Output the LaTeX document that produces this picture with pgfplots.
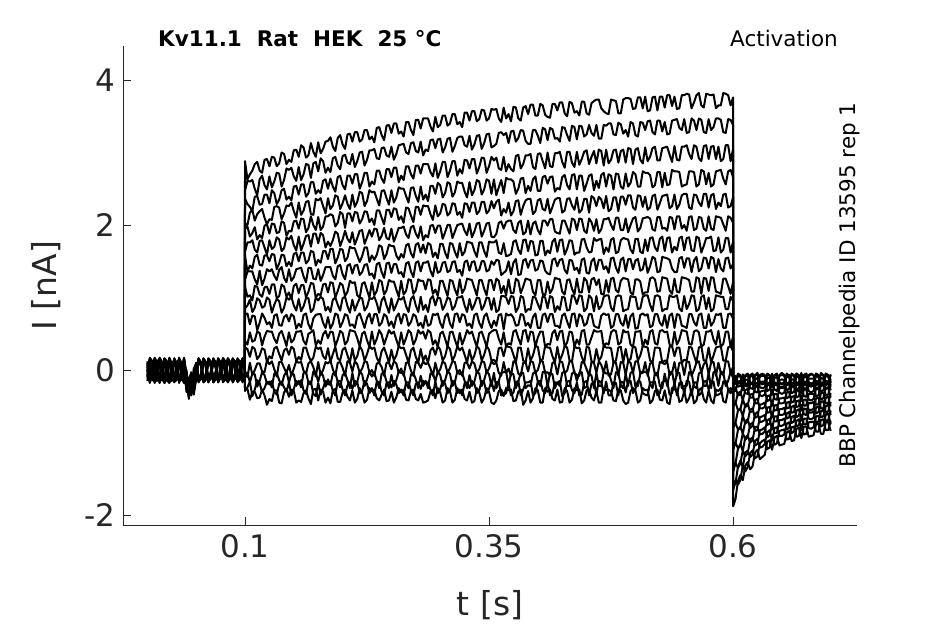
\documentclass[border=0pt]{standalone}
\usepackage{fontspec}
\setmainfont{DejaVu Sans}
\usepackage{pgfplots}
\pgfplotsset{compat=1.18}
\usepackage{pgfplotstable}
\definecolor{axgray}{RGB}{38,38,38}

\pgfplotstableread{
t c0 c1 c2 c3 c4 c5 c6 c7 c8 c9 c10 c11 c12 c13 c14 c15 c16
0.000 0.05 -0.08 0.10 -0.02 -0.12 0.08 0.00 -0.06 0.12 -0.10 0.04 -0.15 0.07 -0.03 0.09 -0.09 0.02
0.0025 -0.16 0.14 -0.12 0.17 -0.05 0.13 -0.18 0.10 -0.14 0.15 -0.09 0.16 -0.17 0.12 -0.15 0.14 -0.11
0.005 -0.10 0.07 -0.05 0.12 0.03 -0.14 0.09 0.05 -0.08 0.06 -0.12 0.10 -0.04 0.08 -0.11 0.05 -0.07
0.0075 0.15 -0.17 0.13 -0.11 0.16 -0.15 0.12 -0.18 0.14 -0.08 0.17 -0.14 0.11 -0.16 0.15 -0.12 0.16
0.010 0.08 -0.12 0.04 -0.09 0.10 0.02 -0.10 0.11 0.01 -0.15 0.09 -0.02 0.12 -0.12 0.03 0.10 -0.05
0.0125 -0.18 0.12 0.16 -0.15 -0.13 0.17 -0.10 0.15 -0.16 0.13 -0.17 0.10 0.15 0.13 -0.12 -0.17 0.14
0.015 -0.04 0.10 -0.13 0.06 -0.07 0.11 0.05 -0.12 0.09 0.03 -0.05 0.08 -0.10 0.05 -0.14 -0.02 0.11
0.0175 0.13 -0.15 -0.17 0.14 0.15 -0.12 0.16 -0.14 0.12 -0.18 0.11 -0.16 -0.13 -0.15 0.16 0.12 -0.18
0.020 0.11 -0.03 0.08 -0.14 0.05 -0.06 0.12 0.02 -0.11 0.10 0.06 -0.13 0.04 -0.07 0.10 0.07 -0.12
0.0225 -0.14 0.17 0.12 -0.18 -0.16 0.14 -0.15 0.13 -0.17 0.12 -0.14 0.15 0.16 0.11 -0.17 -0.15 0.13
0.025 -0.12 0.09 -0.02 0.10 -0.15 0.07 -0.05 0.09 0.04 -0.09 -0.10 0.05 -0.12 0.11 -0.03 -0.11 0.06
0.0275 0.16 -0.13 -0.15 0.12 0.13 -0.17 0.14 -0.16 0.15 -0.13 0.16 -0.12 -0.16 -0.14 0.13 0.16 -0.15
0.030 0.06 -0.11 0.11 0.01 0.08 -0.12 0.03 -0.14 0.10 0.05 0.08 -0.08 0.09 -0.04 0.06 0.04 -0.09
0.0325 -0.15 0.15 0.14 -0.16 -0.18 0.12 -0.13 0.17 -0.12 0.16 -0.15 0.14 0.12 0.15 -0.16 -0.13 0.15
0.035 -0.08 0.04 -0.10 -0.12 0.00 0.09 -0.13 0.06 -0.06 -0.12 0.02 0.11 -0.06 0.07 -0.12 -0.08 0.08
0.0375 0.12 -0.16 -0.18 0.15 0.14 -0.15 0.16 -0.12 0.17 -0.14 0.13 -0.17 -0.14 -0.12 0.15 0.14 -0.16
0.040 -0.08 -0.20 0.00 -0.25 -0.12 -0.02 -0.28 -0.15 -0.05 -0.22 -0.10 -0.04 -0.18 -0.12 -0.30 -0.06 -0.16
0.0425 -0.30 -0.12 -0.35 -0.18 -0.26 -0.40 -0.15 -0.33 -0.22 -0.38 -0.14 -0.28 -0.36 -0.20 -0.32 -0.16 -0.27
0.045 -0.15 -0.05 -0.26 -0.10 -0.32 -0.14 -0.03 -0.22 -0.28 -0.08 -0.18 -0.35 -0.06 -0.20 -0.12 -0.25 -0.09
0.0475 -0.12 -0.28 0.02 -0.34 -0.08 -0.22 -0.30 -0.05 -0.25 -0.15 -0.33 -0.10 -0.24 -0.04 -0.28 -0.12 -0.20
0.050 0.04 -0.10 0.09 -0.03 0.06 -0.11 0.10 -0.06 0.02 0.08 -0.13 0.05 -0.08 0.10 -0.01 0.07 -0.10
0.0525 -0.16 0.15 -0.14 0.16 -0.17 0.13 -0.15 0.14 -0.16 -0.13 0.16 -0.15 0.14 -0.16 0.15 -0.14 0.16
0.055 -0.09 0.08 -0.12 0.10 -0.08 0.05 -0.04 0.11 -0.12 -0.05 0.09 -0.10 0.11 -0.09 0.08 -0.13 0.05
0.0575 0.14 -0.16 0.15 -0.17 0.12 -0.15 0.16 -0.14 0.15 0.16 -0.15 0.13 -0.17 0.15 -0.16 0.15 -0.13
0.060 0.10 -0.05 0.03 -0.13 0.11 -0.09 0.07 -0.10 0.08 0.11 -0.04 0.07 -0.13 0.03 -0.10 0.09 -0.06
0.0625 -0.17 0.13 -0.16 0.14 -0.15 0.16 -0.14 0.16 -0.17 -0.15 0.14 -0.16 0.15 -0.14 0.13 -0.16 0.15
0.065 -0.03 0.11 -0.09 0.05 -0.02 0.12 -0.11 0.04 -0.05 -0.11 0.10 -0.12 0.06 -0.12 0.11 -0.04 0.10
0.0675 0.15 -0.15 0.14 -0.16 0.16 -0.14 0.15 -0.17 0.13 0.14 -0.16 0.15 -0.14 0.16 -0.15 0.14 -0.17
0.070 0.07 -0.13 0.12 -0.08 0.09 -0.03 0.05 -0.13 0.11 0.02 -0.09 0.09 -0.02 0.09 -0.06 0.06 -0.12
0.0725 -0.14 0.16 -0.17 0.15 -0.16 0.14 -0.17 0.13 -0.15 -0.16 0.15 -0.14 0.16 -0.17 0.16 -0.15 0.14
0.075 -0.12 0.06 -0.06 0.11 -0.11 0.08 -0.07 0.08 -0.09 0.09 0.05 -0.07 0.10 -0.05 0.04 -0.10 0.03
0.0775 0.16 -0.14 0.15 -0.14 0.14 -0.16 0.13 -0.15 0.16 0.15 -0.17 0.16 -0.15 0.14 -0.14 0.16 -0.15
0.080 0.09 -0.04 0.10 -0.10 0.06 -0.13 0.11 -0.03 0.05 -0.12 -0.11 0.12 -0.09 0.11 -0.13 0.08 -0.08
0.0825 -0.15 0.15 -0.14 0.16 -0.17 0.15 -0.16 0.14 -0.14 -0.17 0.14 -0.15 0.16 -0.15 0.15 -0.14 0.16
0.085 -0.05 0.10 -0.11 0.03 -0.09 0.06 -0.09 0.10 -0.13 0.07 0.08 -0.05 0.05 -0.10 0.09 -0.07 0.11
0.0875 0.14 -0.17 0.16 -0.15 0.15 -0.14 0.16 -0.16 0.15 0.14 -0.15 0.14 -0.16 0.16 -0.17 0.15 -0.14
0.090 0.12 -0.09 0.05 -0.12 0.10 -0.07 0.04 -0.11 0.09 -0.04 -0.06 0.09 -0.12 0.06 -0.05 0.11 -0.04
0.0925 -0.16 0.14 -0.15 0.15 -0.14 0.16 -0.15 0.15 -0.17 -0.14 0.16 -0.16 0.15 -0.14 0.14 -0.16 0.15
0.095 -0.07 0.05 -0.13 0.08 -0.05 0.10 -0.12 0.06 -0.02 0.10 0.03 -0.13 0.08 -0.08 0.12 -0.09 0.07
0.0975 0.15 -0.16 0.14 -0.17 0.16 -0.15 0.14 -0.14 0.16 0.15 -0.14 0.15 -0.15 0.16 -0.16 0.14 -0.15
0.0999 0.02 -0.06 0.06 -0.04 0.08 -0.03 0.05 -0.07 0.10 -0.05 -0.02 0.06 -0.06 0.04 -0.03 0.05 -0.08
0.100 2.88 2.47 2.36 2.02 1.95 1.63 1.57 1.24 1.15 0.85 0.76 0.40 0.31 -0.02 -0.04 -0.29 -0.26
0.1025 2.63 2.61 2.29 2.00 1.98 1.76 1.36 1.36 1.01 0.89 0.78 0.35 0.29 -0.10 -0.04 -0.24 -0.26
0.105 2.70 2.60 2.25 2.17 1.84 1.76 1.44 1.36 1.03 0.97 0.63 0.52 0.18 0.10 -0.17 -0.16 -0.41
0.1075 2.75 2.62 2.19 2.21 1.89 1.79 1.40 1.36 0.96 0.80 0.75 0.39 0.32 -0.07 -0.05 -0.36 -0.30
0.110 2.84 2.50 2.39 2.06 1.97 1.66 1.56 1.25 1.16 0.86 0.74 0.41 0.29 0.00 -0.06 -0.27 -0.30
0.1125 2.87 2.41 2.40 2.15 1.80 1.62 1.59 1.18 1.15 0.99 0.55 0.53 0.15 0.09 -0.23 -0.14 -0.39
0.115 2.75 2.63 2.28 2.19 1.86 1.78 1.45 1.37 1.04 0.96 0.65 0.51 0.20 0.09 -0.15 -0.18 -0.38
0.1175 2.72 2.68 2.29 2.22 1.82 1.79 1.44 1.17 1.01 0.86 0.78 0.34 0.30 -0.02 -0.03 -0.31 -0.27
0.120 2.90 2.55 2.42 2.10 1.99 1.69 1.58 1.26 1.14 0.88 0.72 0.46 0.28 -0.03 -0.07 -0.25 -0.35
0.1225 2.91 2.49 2.42 2.01 2.01 1.59 1.58 1.39 1.15 1.00 0.63 0.54 0.11 0.13 -0.19 -0.16 -0.48
0.125 2.81 2.67 2.30 2.08 1.88 1.79 1.50 1.36 1.05 0.97 0.66 0.53 0.19 0.08 -0.16 -0.20 -0.40
0.1275 2.94 2.52 2.48 2.07 2.02 1.67 1.60 1.39 1.18 0.79 0.58 0.53 0.16 0.12 -0.24 -0.15 -0.43
0.130 2.93 2.60 2.44 2.25 2.01 1.70 1.59 1.30 1.18 0.90 0.75 0.43 0.30 0.01 -0.05 -0.30 -0.28
0.1325 2.81 2.72 2.29 2.26 1.89 1.83 1.39 1.24 0.99 0.98 0.77 0.37 0.32 -0.09 -0.04 -0.34 -0.28
0.135 2.85 2.71 2.35 2.24 1.90 1.80 1.47 1.38 1.02 0.95 0.62 0.50 0.22 0.11 -0.14 -0.19 -0.45
0.1375 3.00 2.53 2.48 2.08 2.05 1.64 1.59 1.42 1.18 0.79 0.61 0.54 0.13 0.11 -0.21 -0.16 -0.46
0.140 2.98 2.62 2.50 2.16 2.03 1.68 1.58 1.27 1.15 0.86 0.73 0.44 0.27 0.03 -0.08 -0.24 -0.31
0.1425 2.84 2.78 2.35 2.27 1.85 1.83 1.43 1.21 1.01 1.00 0.76 0.33 0.30 -0.04 -0.02 -0.30 -0.26
0.145 2.90 2.76 2.39 2.26 1.92 1.80 1.49 1.39 1.07 0.97 0.67 0.52 0.21 0.07 -0.17 -0.17 -0.37
0.1475 2.87 2.79 2.34 2.31 1.91 1.85 1.43 1.23 0.98 1.01 0.77 0.38 0.32 -0.08 -0.05 -0.35 -0.27
0.150 3.03 2.67 2.53 2.19 2.05 1.72 1.60 1.28 1.16 0.89 0.74 0.42 0.29 0.02 -0.06 -0.26 -0.29
0.1525 3.04 2.61 2.54 2.10 2.06 1.65 1.62 1.39 1.19 0.82 0.57 0.53 0.12 0.12 -0.22 -0.15 -0.45
0.155 2.94 2.80 2.42 2.31 1.95 1.84 1.50 1.40 1.06 0.98 0.64 0.53 0.18 0.10 -0.15 -0.19 -0.42
0.1575 3.10 2.62 2.56 2.14 2.09 1.65 1.62 1.41 1.17 0.81 0.59 0.54 0.14 0.11 -0.24 -0.14 -0.44
0.160 3.07 2.70 2.56 2.20 2.08 1.74 1.62 1.29 1.17 0.88 0.76 0.40 0.31 -0.01 -0.04 -0.28 -0.32
0.1625 2.93 2.84 2.39 2.32 1.90 1.85 1.47 1.21 1.00 0.99 0.78 0.35 0.31 -0.05 -0.03 -0.33 -0.28
0.165 2.96 2.83 2.44 2.33 1.96 1.86 1.51 1.41 1.08 0.99 0.63 0.50 0.20 0.09 -0.18 -0.16 -0.39
0.1675 3.13 2.65 2.59 2.15 2.12 1.70 1.64 1.41 1.20 0.80 0.56 0.52 0.12 0.12 -0.20 -0.16 -0.47
0.170 3.01 2.85 2.59 2.14 2.00 1.88 1.63 1.26 1.19 0.84 0.71 0.55 0.17 0.04 -0.02 -0.33 -0.27
0.1725 2.94 2.87 2.43 2.36 1.93 1.88 1.44 1.25 1.00 1.00 0.76 0.34 0.32 -0.09 -0.04 -0.36 -0.26
0.175 3.14 2.74 2.48 2.34 2.11 1.75 1.52 1.39 1.05 0.96 0.77 0.41 0.29 0.11 -0.16 -0.18 -0.42
0.1775 2.99 2.92 2.44 2.37 1.93 1.89 1.48 1.23 1.03 1.01 0.77 0.36 0.31 -0.07 -0.03 -0.34 -0.27
0.180 3.05 2.88 2.61 2.26 1.98 1.86 1.64 1.31 1.18 0.98 0.65 0.49 0.19 0.00 -0.08 -0.25 -0.30
0.1825 3.15 2.72 2.63 2.16 2.12 1.69 1.64 1.42 1.19 0.82 0.58 0.54 0.15 0.11 -0.23 -0.15 -0.45
0.185 3.16 2.79 2.50 2.37 2.12 1.77 1.53 1.42 1.07 0.87 0.73 0.44 0.30 0.09 -0.13 -0.20 -0.38
0.1875 3.21 2.73 2.64 2.22 2.15 1.71 1.67 1.42 1.21 0.80 0.57 0.53 0.11 0.13 -0.21 -0.16 -0.46
0.190 3.08 2.92 2.53 2.27 2.13 1.79 1.67 1.30 1.20 0.97 0.64 0.52 0.22 0.01 -0.05 -0.29 -0.28
0.1925 3.02 2.94 2.46 2.41 1.98 1.91 1.47 1.25 1.00 1.00 0.78 0.33 0.32 -0.08 -0.04 -0.35 -0.26
0.195 3.20 2.82 2.66 2.39 2.03 1.88 1.55 1.43 1.09 0.90 0.76 0.42 0.16 0.10 -0.16 -0.15 -0.44
0.1975 3.24 2.77 2.68 2.22 2.18 1.71 1.67 1.45 1.20 0.82 0.59 0.54 0.13 0.11 -0.24 -0.15 -0.44
0.200 3.11 2.95 2.55 2.30 2.15 1.80 1.66 1.32 1.17 0.99 0.66 0.51 0.28 0.03 -0.07 -0.27 -0.31
0.2025 3.05 2.97 2.49 2.41 1.96 1.92 1.50 1.25 1.02 1.01 0.77 0.35 0.31 -0.08 -0.04 -0.35 -0.27
0.205 3.25 2.86 2.68 2.29 2.16 1.81 1.55 1.44 1.08 0.88 0.75 0.40 0.20 0.12 -0.14 -0.21 -0.37
0.2075 3.26 2.84 2.68 2.22 2.16 1.76 1.70 1.46 1.23 0.79 0.61 0.55 0.10 0.10 -0.25 -0.17 -0.42
0.210 3.15 2.98 2.57 2.42 2.05 1.90 1.68 1.33 1.20 0.97 0.63 0.54 0.30 -0.02 -0.04 -0.26 -0.28
0.2125 3.28 2.80 2.70 2.25 2.18 1.73 1.68 1.44 1.21 0.82 0.58 0.53 0.13 0.12 -0.22 -0.15 -0.45
0.215 3.28 2.88 2.70 2.32 2.17 1.82 1.58 1.45 1.03 0.91 0.74 0.44 0.19 0.08 -0.17 -0.17 -0.40
0.2175 3.15 3.00 2.50 2.46 2.02 1.92 1.49 1.31 1.00 0.99 0.78 0.32 0.33 -0.04 -0.02 -0.32 -0.25
0.220 3.18 3.01 2.59 2.44 2.08 1.93 1.57 1.35 1.19 0.99 0.68 0.50 0.27 0.02 -0.06 -0.29 -0.32
0.2225 3.31 2.82 2.72 2.26 2.19 1.74 1.69 1.45 1.21 0.82 0.58 0.53 0.13 0.12 -0.22 -0.15 -0.45
0.225 3.31 2.90 2.72 2.33 2.18 1.83 1.69 1.46 1.10 0.87 0.72 0.41 0.22 0.11 -0.13 -0.19 -0.41
0.2275 3.18 3.03 2.53 2.48 2.04 1.93 1.49 1.31 1.00 0.99 0.78 0.32 0.33 -0.04 -0.02 -0.32 -0.25
0.230 3.22 3.03 2.60 2.45 2.09 1.84 1.58 1.33 1.21 0.98 0.64 0.53 0.29 0.00 -0.09 -0.25 -0.29
0.2325 3.14 3.05 2.56 2.46 2.00 1.95 1.52 1.26 1.03 1.01 0.77 0.35 0.31 -0.08 -0.04 -0.35 -0.27
0.235 3.34 2.92 2.75 2.36 2.20 1.94 1.59 1.46 1.09 0.92 0.77 0.43 0.17 0.09 -0.15 -0.16 -0.39
0.2375 3.35 2.91 2.75 2.27 2.20 1.79 1.72 1.48 1.24 0.79 0.61 0.55 0.10 0.10 -0.25 -0.17 -0.42
0.240 3.24 3.06 2.64 2.47 2.10 1.85 1.70 1.35 1.22 0.96 0.65 0.49 0.26 0.04 -0.05 -0.30 -0.34
0.2425 3.17 3.07 2.58 2.48 2.01 1.96 1.53 1.27 1.04 1.01 0.77 0.35 0.31 -0.08 -0.04 -0.35 -0.27
0.245 3.37 2.96 2.77 2.37 2.21 1.82 1.60 1.47 1.10 0.89 0.74 0.45 0.21 0.10 -0.16 -0.18 -0.43
0.2475 3.38 2.94 2.77 2.28 2.21 1.80 1.73 1.48 1.24 0.79 0.61 0.55 0.10 0.10 -0.25 -0.17 -0.42
0.250 3.27 3.08 2.66 2.48 2.11 1.95 1.71 1.34 1.22 0.99 0.67 0.50 0.28 0.01 -0.07 -0.24 -0.30
0.2525 3.40 2.90 2.79 2.31 2.23 1.77 1.71 1.46 1.22 0.82 0.58 0.53 0.13 0.12 -0.22 -0.15 -0.45
0.255 3.40 2.98 2.79 2.38 2.22 1.86 1.58 1.46 1.11 0.90 0.73 0.42 0.20 0.09 -0.14 -0.20 -0.38
0.2575 3.26 3.10 2.59 2.52 2.07 1.96 1.52 1.33 1.01 0.99 0.78 0.32 0.33 -0.04 -0.02 -0.32 -0.25
0.260 3.29 3.11 2.68 2.50 2.12 1.96 1.60 1.35 1.23 0.97 0.64 0.52 0.30 0.02 -0.04 -0.27 -0.31
0.2625 3.22 3.12 2.62 2.50 2.03 1.98 1.55 1.28 1.04 1.01 0.77 0.35 0.31 -0.08 -0.04 -0.35 -0.27
0.265 3.42 3.00 2.81 2.40 2.24 1.87 1.72 1.47 1.09 0.88 0.76 0.44 0.21 0.10 -0.18 -0.17 -0.41
0.2675 3.42 2.98 2.81 2.31 2.23 1.82 1.74 1.49 1.25 0.80 0.61 0.55 0.10 0.10 -0.25 -0.17 -0.42
0.270 3.31 3.13 2.70 2.51 2.13 1.97 1.61 1.36 1.24 0.98 0.66 0.51 0.27 -0.01 -0.06 -0.28 -0.29
0.2725 3.24 3.14 2.64 2.52 2.04 1.99 1.55 1.28 1.05 1.02 0.77 0.35 0.31 -0.08 -0.04 -0.35 -0.27
0.275 3.45 3.02 2.82 2.40 2.25 1.88 1.73 1.48 1.10 0.89 0.74 0.42 0.18 0.11 -0.13 -0.19 -0.40
0.2775 3.45 3.00 2.82 2.32 2.25 1.82 1.75 1.50 1.25 0.80 0.61 0.55 0.10 0.10 -0.25 -0.17 -0.42
0.280 3.33 3.15 2.71 2.53 2.14 1.98 1.62 1.36 1.23 1.01 0.65 0.50 0.29 0.03 -0.08 -0.26 -0.33
0.2825 3.47 2.96 2.84 2.35 2.27 1.79 1.73 1.48 1.23 0.83 0.58 0.53 0.13 0.12 -0.22 -0.15 -0.45
0.285 3.47 3.04 2.84 2.42 2.26 1.86 1.61 1.48 1.11 0.90 0.75 0.43 0.20 0.08 -0.15 -0.18 -0.44
0.2875 3.47 3.02 2.84 2.33 2.26 1.83 1.75 1.50 1.25 0.80 0.61 0.55 0.10 0.10 -0.25 -0.17 -0.42
0.290 3.36 3.17 2.73 2.54 2.15 1.99 1.73 1.37 1.24 0.98 0.63 0.52 0.27 0.02 -0.05 -0.27 -0.30
0.2925 3.29 3.18 2.67 2.54 2.07 2.00 1.56 1.29 1.05 1.02 0.77 0.35 0.31 -0.08 -0.04 -0.35 -0.27
0.295 3.49 3.06 2.85 2.43 2.27 1.89 1.62 1.49 1.11 0.89 0.76 0.41 0.21 0.10 -0.16 -0.16 -0.39
0.2975 3.35 3.18 2.65 2.58 2.12 1.99 1.54 1.34 1.02 1.00 0.78 0.32 0.33 -0.04 -0.02 -0.32 -0.25
0.300 3.38 3.19 2.74 2.55 2.16 1.99 1.74 1.36 1.23 0.99 0.65 0.50 0.28 0.01 -0.07 -0.26 -0.31
0.3025 3.51 3.00 2.87 2.38 2.29 1.81 1.74 1.48 1.23 0.83 0.58 0.53 0.13 0.12 -0.22 -0.15 -0.45
0.305 3.51 3.07 2.87 2.44 2.28 1.90 1.62 1.49 1.12 0.90 0.74 0.43 0.19 0.09 -0.14 -0.19 -0.42
0.3075 3.37 3.19 2.66 2.59 2.13 2.00 1.54 1.35 1.02 1.00 0.78 0.32 0.33 -0.04 -0.02 -0.32 -0.25
0.310 3.40 3.20 2.75 2.57 2.17 2.00 1.75 1.37 1.24 0.98 0.64 0.52 0.29 0.03 -0.05 -0.28 -0.29
0.3125 3.53 3.01 2.88 2.39 2.30 1.82 1.74 1.49 1.23 0.83 0.58 0.53 0.13 0.12 -0.22 -0.15 -0.45
0.315 3.53 3.09 2.88 2.45 2.29 1.91 1.63 1.50 1.11 0.88 0.77 0.42 0.20 0.11 -0.17 -0.17 -0.41
0.3175 3.39 3.20 2.68 2.60 2.14 2.00 1.55 1.35 1.03 1.00 0.78 0.32 0.33 -0.04 -0.02 -0.32 -0.25
0.320 3.42 3.22 2.77 2.58 2.18 2.01 1.75 1.38 1.25 1.00 0.66 0.51 0.27 0.00 -0.06 -0.27 -0.32
0.3225 3.35 3.22 2.71 2.58 2.10 2.02 1.58 1.30 1.06 1.02 0.77 0.35 0.31 -0.08 -0.04 -0.35 -0.27
0.325 3.55 3.10 2.90 2.46 2.30 1.92 1.63 1.49 1.12 0.89 0.75 0.44 0.21 0.10 -0.15 -0.18 -0.40
0.3275 3.55 3.08 2.89 2.38 2.29 1.86 1.77 1.51 1.26 0.80 0.61 0.55 0.10 0.10 -0.25 -0.17 -0.42
0.330 3.44 3.23 2.78 2.59 2.18 2.02 1.76 1.37 1.25 0.98 0.64 0.50 0.28 0.02 -0.07 -0.25 -0.30
0.3325 3.57 3.04 2.91 2.41 2.31 1.83 1.75 1.49 1.24 0.83 0.58 0.53 0.13 0.12 -0.22 -0.15 -0.45
0.335 3.57 3.11 2.91 2.48 2.31 1.91 1.64 1.50 1.13 0.90 0.76 0.42 0.20 0.09 -0.16 -0.19 -0.43
0.3375 3.43 3.23 2.71 2.62 2.15 2.02 1.56 1.36 1.03 1.00 0.78 0.32 0.33 -0.04 -0.02 -0.32 -0.25
0.340 3.46 3.24 2.80 2.60 2.19 2.03 1.76 1.38 1.24 0.99 0.65 0.51 0.29 0.01 -0.05 -0.28 -0.31
0.3425 3.59 3.05 2.93 2.42 2.32 1.84 1.76 1.50 1.24 0.83 0.58 0.53 0.13 0.12 -0.22 -0.15 -0.45
0.345 3.58 3.13 2.92 2.49 2.32 1.92 1.64 1.50 1.12 0.89 0.74 0.43 0.21 0.11 -0.14 -0.17 -0.39
0.3475 3.44 3.25 2.72 2.63 2.16 2.02 1.56 1.36 1.03 1.00 0.78 0.32 0.33 -0.04 -0.02 -0.32 -0.25
0.350 3.47 3.26 2.81 2.61 2.20 2.03 1.77 1.38 1.24 0.99 0.66 0.50 0.28 0.02 -0.06 -0.26 -0.30
0.3525 3.60 3.07 2.94 2.43 2.33 1.84 1.76 1.50 1.24 0.83 0.58 0.53 0.13 0.12 -0.22 -0.15 -0.45
0.355 3.59 3.09 2.89 2.63 2.23 1.83 1.76 1.45 1.10 0.99 0.68 0.55 0.14 0.08 -0.04 -0.29 -0.47
0.3575 3.60 3.12 2.93 2.41 2.32 1.88 1.79 1.52 1.26 0.80 0.61 0.55 0.10 0.10 -0.25 -0.17 -0.42
0.360 3.47 3.27 2.78 2.52 2.35 2.03 1.62 1.51 1.23 0.83 0.76 0.43 0.30 -0.04 -0.15 -0.16 -0.29
0.3625 3.42 3.28 2.76 2.62 2.13 2.05 1.60 1.31 1.06 1.02 0.77 0.35 0.31 -0.08 -0.04 -0.35 -0.27
0.365 3.62 3.24 2.94 2.44 2.22 1.95 1.75 1.34 1.16 1.02 0.56 0.52 0.19 0.11 -0.03 -0.34 -0.36
0.3675 3.47 3.27 2.74 2.65 2.17 2.04 1.57 1.37 1.03 1.00 0.78 0.32 0.33 -0.04 -0.02 -0.32 -0.25
0.370 3.53 3.13 2.84 2.63 2.31 2.06 1.58 1.50 1.25 0.91 0.75 0.37 0.32 0.02 -0.22 -0.18 -0.28
0.3725 3.43 3.29 2.77 2.63 2.13 2.06 1.60 1.32 1.06 1.02 0.77 0.35 0.31 -0.08 -0.04 -0.35 -0.27
0.375 3.63 3.30 2.74 2.60 2.19 1.93 1.77 1.48 1.06 1.01 0.72 0.53 0.21 0.12 -0.06 -0.31 -0.43
0.3775 3.62 3.15 2.95 2.43 2.33 1.89 1.79 1.53 1.26 0.80 0.61 0.55 0.10 0.10 -0.25 -0.17 -0.42
0.380 3.47 3.20 2.97 2.50 2.34 2.03 1.66 1.31 1.23 0.86 0.62 0.44 0.31 -0.05 -0.16 -0.15 -0.30
0.3825 3.44 3.31 2.78 2.64 2.14 2.06 1.60 1.32 1.06 1.02 0.77 0.35 0.31 -0.08 -0.04 -0.35 -0.27
0.385 3.62 3.30 2.84 2.65 2.26 1.87 1.79 1.51 1.15 1.00 0.76 0.54 0.13 0.10 -0.04 -0.27 -0.48
0.3875 3.64 3.16 2.96 2.44 2.34 1.90 1.80 1.53 1.26 0.80 0.61 0.55 0.10 0.10 -0.25 -0.17 -0.42
0.390 3.53 3.12 2.96 2.54 2.36 2.06 1.64 1.41 1.25 0.84 0.65 0.39 0.30 -0.02 -0.21 -0.17 -0.29
0.3925 3.66 3.12 2.98 2.47 2.36 1.87 1.78 1.51 1.24 0.83 0.58 0.53 0.13 0.12 -0.22 -0.15 -0.45
0.395 3.66 3.31 2.80 2.63 2.15 2.02 1.77 1.52 1.08 1.01 0.73 0.52 0.20 0.11 -0.05 -0.35 -0.39
0.3975 3.51 3.31 2.77 2.67 2.19 2.05 1.58 1.37 1.03 1.00 0.78 0.32 0.33 -0.04 -0.02 -0.32 -0.25
0.400 3.51 3.23 2.98 2.47 2.34 1.93 1.59 1.39 1.24 0.91 0.58 0.45 0.32 0.00 -0.16 -0.16 -0.28
0.4025 3.67 3.13 2.99 2.47 2.36 1.87 1.78 1.51 1.24 0.83 0.58 0.53 0.13 0.12 -0.22 -0.15 -0.45
0.405 3.65 3.34 2.88 2.66 2.22 2.06 1.78 1.50 1.05 1.02 0.76 0.53 0.15 0.12 -0.03 -0.28 -0.45
0.4075 3.52 3.32 2.78 2.68 2.20 2.06 1.58 1.37 1.03 1.00 0.78 0.32 0.33 -0.04 -0.02 -0.32 -0.25
0.410 3.49 3.17 3.00 2.57 2.36 1.99 1.65 1.33 1.22 0.85 0.66 0.36 0.31 -0.03 -0.23 -0.17 -0.30
0.4125 3.48 3.34 2.81 2.66 2.16 2.08 1.61 1.32 1.06 1.02 0.77 0.35 0.31 -0.08 -0.04 -0.35 -0.27
0.415 3.67 3.32 2.80 2.67 2.25 2.08 1.77 1.52 1.12 1.00 0.77 0.51 0.19 0.10 -0.06 -0.32 -0.40
0.4175 3.67 3.19 2.99 2.46 2.35 1.91 1.81 1.54 1.27 0.80 0.61 0.55 0.10 0.10 -0.25 -0.17 -0.42
0.420 3.58 3.20 2.99 2.51 2.37 1.89 1.63 1.43 1.26 0.88 0.61 0.41 0.32 -0.06 -0.17 -0.18 -0.27
0.4225 3.69 3.15 3.01 2.49 2.37 1.88 1.79 1.52 1.25 0.83 0.58 0.53 0.13 0.12 -0.22 -0.15 -0.45
0.425 3.69 3.35 2.87 2.66 2.17 2.06 1.80 1.53 1.08 1.01 0.75 0.54 0.21 0.11 -0.04 -0.36 -0.44
0.4275 3.54 3.34 2.79 2.69 2.20 2.06 1.59 1.38 1.04 1.00 0.78 0.32 0.33 -0.04 -0.02 -0.32 -0.25
0.430 3.50 3.24 3.01 2.55 2.36 1.97 1.67 1.33 1.24 0.82 0.67 0.38 0.31 -0.01 -0.22 -0.16 -0.29
0.4325 3.70 3.16 3.01 2.49 2.37 1.88 1.79 1.52 1.25 0.83 0.58 0.53 0.13 0.12 -0.22 -0.15 -0.45
0.435 3.68 3.37 2.86 2.69 2.27 2.09 1.78 1.51 1.12 1.03 0.77 0.52 0.12 0.12 -0.05 -0.28 -0.41
0.4375 3.55 3.35 2.80 2.70 2.21 2.07 1.59 1.38 1.04 1.01 0.78 0.32 0.33 -0.04 -0.02 -0.32 -0.25
0.440 3.57 3.18 3.01 2.49 2.38 1.93 1.62 1.41 1.26 0.91 0.60 0.42 0.30 -0.07 -0.15 -0.17 -0.28
0.4425 3.51 3.37 2.83 2.68 2.17 2.09 1.62 1.33 1.07 1.03 0.77 0.35 0.31 -0.08 -0.04 -0.35 -0.27
0.445 3.70 3.36 2.91 2.68 2.21 2.08 1.80 1.52 1.07 1.02 0.74 0.54 0.18 0.11 -0.03 -0.34 -0.46
0.4475 3.70 3.22 3.01 2.47 2.36 1.92 1.81 1.54 1.27 0.81 0.61 0.55 0.10 0.10 -0.25 -0.17 -0.42
0.450 3.54 3.25 3.03 2.57 2.36 1.89 1.69 1.34 1.23 0.85 0.64 0.35 0.32 0.01 -0.23 -0.15 -0.28
0.4525 3.52 3.38 2.84 2.68 2.17 2.09 1.62 1.33 1.07 1.03 0.77 0.35 0.31 -0.08 -0.04 -0.35 -0.27
0.455 3.68 3.27 2.94 2.70 2.40 2.04 1.63 1.50 1.25 0.99 0.77 0.45 0.12 0.11 -0.08 -0.19 -0.38
0.4575 3.71 3.23 3.02 2.48 2.37 1.92 1.82 1.54 1.27 0.81 0.61 0.55 0.10 0.10 -0.25 -0.17 -0.42
0.460 3.73 3.38 2.85 2.61 2.26 2.08 1.78 1.37 1.17 1.02 0.59 0.53 0.29 -0.04 -0.04 -0.33 -0.29
0.4625 3.73 3.19 3.04 2.51 2.39 1.89 1.80 1.52 1.25 0.84 0.58 0.53 0.13 0.12 -0.22 -0.15 -0.45
0.465 3.61 3.19 3.02 2.69 2.35 1.94 1.81 1.52 1.05 0.88 0.75 0.54 0.18 0.07 -0.22 -0.17 -0.45
0.4675 3.57 3.38 2.82 2.72 2.23 2.08 1.60 1.39 1.04 1.01 0.78 0.32 0.33 -0.04 -0.02 -0.32 -0.25
0.470 3.54 3.37 3.04 2.53 2.40 2.08 1.69 1.43 1.24 1.03 0.76 0.37 0.31 0.12 -0.05 -0.16 -0.28
0.4725 3.53 3.40 2.85 2.70 2.19 2.10 1.63 1.34 1.07 1.03 0.77 0.35 0.31 -0.08 -0.04 -0.35 -0.27
0.475 3.73 3.40 2.90 2.68 2.22 2.00 1.80 1.54 1.26 0.86 0.58 0.52 0.30 -0.06 -0.14 -0.35 -0.30
0.4775 3.72 3.25 3.03 2.49 2.38 1.93 1.82 1.55 1.27 0.81 0.61 0.55 0.10 0.10 -0.25 -0.17 -0.42
0.480 3.71 3.24 3.04 2.71 2.38 2.10 1.61 1.41 1.10 1.01 0.77 0.54 0.13 0.10 -0.03 -0.18 -0.43
0.4825 3.54 3.41 2.86 2.70 2.19 2.10 1.63 1.34 1.07 1.03 0.77 0.35 0.31 -0.08 -0.04 -0.35 -0.27
0.485 3.54 3.39 3.02 2.53 2.39 1.93 1.79 1.52 1.23 1.02 0.65 0.38 0.32 0.11 -0.21 -0.16 -0.28
0.4875 3.73 3.26 3.04 2.50 2.39 1.93 1.82 1.55 1.27 0.81 0.61 0.55 0.10 0.10 -0.25 -0.17 -0.42
0.490 3.75 3.31 2.86 2.71 2.28 2.09 1.81 1.36 1.26 0.83 0.76 0.52 0.29 -0.07 -0.05 -0.31 -0.47
0.4925 3.75 3.22 3.06 2.53 2.41 1.90 1.80 1.53 1.25 0.84 0.58 0.53 0.13 0.12 -0.22 -0.15 -0.45
0.495 3.74 3.42 3.05 2.58 2.41 2.00 1.66 1.53 1.07 1.02 0.74 0.35 0.15 0.10 -0.04 -0.15 -0.29
0.4975 3.60 3.40 2.84 2.73 2.24 2.09 1.61 1.39 1.04 1.01 0.78 0.32 0.33 -0.04 -0.02 -0.32 -0.25
0.500 3.61 3.24 3.04 2.70 2.21 2.11 1.81 1.51 1.25 1.01 0.57 0.53 0.31 0.12 -0.23 -0.26 -0.28
0.5025 3.76 3.22 3.06 2.53 2.41 1.91 1.81 1.53 1.25 0.84 0.58 0.53 0.13 0.12 -0.22 -0.15 -0.45
0.505 3.76 3.42 2.90 2.53 2.40 1.96 1.63 1.37 1.22 0.85 0.76 0.54 0.20 -0.05 -0.05 -0.16 -0.42
0.5075 3.61 3.41 2.85 2.74 2.25 2.09 1.61 1.39 1.04 1.01 0.78 0.32 0.33 -0.04 -0.02 -0.32 -0.25
0.510 3.77 3.31 3.07 2.72 2.39 2.10 1.80 1.54 1.07 1.03 0.75 0.42 0.32 0.11 -0.03 -0.34 -0.28
0.5125 3.57 3.43 2.88 2.72 2.21 2.11 1.64 1.34 1.07 1.03 0.77 0.35 0.31 -0.08 -0.04 -0.35 -0.27
0.515 3.58 3.44 2.94 2.69 2.24 2.09 1.82 1.43 1.26 0.90 0.59 0.53 0.13 0.09 -0.19 -0.17 -0.46
0.5175 3.76 3.28 3.06 2.52 2.40 1.94 1.83 1.56 1.28 0.81 0.61 0.55 0.10 0.10 -0.25 -0.17 -0.42
0.520 3.77 3.25 3.08 2.55 2.42 1.92 1.69 1.54 1.25 1.02 0.77 0.37 0.31 -0.06 -0.04 -0.16 -0.29
0.5225 3.58 3.44 2.89 2.73 2.21 2.11 1.64 1.35 1.08 1.03 0.77 0.35 0.31 -0.08 -0.04 -0.35 -0.27
0.525 3.77 3.44 2.89 2.73 2.30 2.11 1.81 1.36 1.09 1.01 0.65 0.54 0.30 0.11 -0.22 -0.32 -0.41
0.5275 3.77 3.29 3.06 2.52 2.40 1.95 1.84 1.56 1.28 0.81 0.61 0.55 0.10 0.10 -0.25 -0.17 -0.42
0.530 3.62 3.42 3.07 2.72 2.41 1.96 1.64 1.55 1.27 0.84 0.76 0.52 0.13 0.08 -0.05 -0.15 -0.28
0.5325 3.79 3.25 3.08 2.55 2.42 1.92 1.82 1.54 1.26 0.84 0.58 0.53 0.13 0.12 -0.22 -0.15 -0.45
0.535 3.79 3.26 2.97 2.56 2.23 2.11 1.83 1.52 1.10 1.03 0.75 0.35 0.32 -0.07 -0.04 -0.34 -0.47
0.5375 3.64 3.44 2.87 2.76 2.26 2.10 1.62 1.40 1.05 1.01 0.78 0.32 0.33 -0.04 -0.02 -0.32 -0.25
0.540 3.77 3.45 3.09 2.74 2.42 1.94 1.70 1.35 1.26 1.01 0.58 0.53 0.19 0.11 -0.21 -0.17 -0.27
0.5425 3.60 3.46 2.90 2.74 2.22 2.12 1.65 1.35 1.08 1.03 0.77 0.35 0.31 -0.08 -0.04 -0.35 -0.27
0.545 3.61 3.34 2.89 2.73 2.28 2.12 1.82 1.54 1.07 0.85 0.76 0.42 0.31 0.10 -0.04 -0.18 -0.44
0.5475 3.79 3.31 3.08 2.53 2.41 1.95 1.84 1.56 1.28 0.81 0.61 0.55 0.10 0.10 -0.25 -0.17 -0.42
0.550 3.79 3.46 3.08 2.55 2.43 2.00 1.65 1.41 1.27 1.02 0.60 0.54 0.14 -0.07 -0.22 -0.33 -0.29
0.5525 3.81 3.27 3.10 2.56 2.43 1.92 1.82 1.54 1.26 0.84 0.58 0.53 0.13 0.12 -0.22 -0.15 -0.45
0.555 3.80 3.28 2.98 2.74 2.24 2.11 1.83 1.54 1.24 0.91 0.77 0.36 0.32 0.11 -0.03 -0.16 -0.39
0.5575 3.61 3.47 2.91 2.74 2.22 2.12 1.65 1.35 1.08 1.03 0.77 0.35 0.31 -0.08 -0.04 -0.35 -0.27
0.560 3.69 3.44 3.10 2.73 2.42 1.93 1.64 1.51 1.08 1.02 0.66 0.53 0.20 0.00 -0.23 -0.17 -0.46
0.5625 3.79 3.31 3.08 2.53 2.41 1.95 1.84 1.56 1.28 0.81 0.61 0.55 0.10 0.10 -0.25 -0.17 -0.42
0.565 3.82 3.47 2.92 2.56 2.31 2.11 1.82 1.36 1.26 0.84 0.76 0.52 0.31 0.12 -0.05 -0.35 -0.28
0.5675 3.65 3.45 2.88 2.76 2.26 2.10 1.62 1.40 1.05 1.01 0.78 0.32 0.33 -0.04 -0.02 -0.32 -0.25
0.570 3.62 3.28 3.09 2.74 2.43 1.95 1.71 1.55 1.27 1.03 0.58 0.35 0.13 0.08 -0.22 -0.16 -0.40
0.5725 3.81 3.27 3.10 2.56 2.43 1.92 1.82 1.54 1.26 0.84 0.58 0.53 0.13 0.12 -0.22 -0.15 -0.45
0.575 3.80 3.46 2.91 2.72 2.24 2.12 1.82 1.40 1.09 1.00 0.77 0.53 0.31 -0.06 -0.04 -0.27 -0.28
0.5775 3.79 3.31 3.08 2.53 2.41 1.95 1.84 1.56 1.28 0.81 0.61 0.55 0.10 0.10 -0.25 -0.17 -0.42
0.580 3.80 3.35 3.09 2.56 2.43 1.93 1.64 1.54 1.27 0.84 0.66 0.42 0.20 0.11 -0.03 -0.16 -0.46
0.5825 3.61 3.47 2.91 2.74 2.22 2.12 1.65 1.35 1.08 1.03 0.77 0.35 0.31 -0.08 -0.04 -0.35 -0.27
0.585 3.65 3.47 3.08 2.75 2.31 2.11 1.83 1.53 1.07 1.02 0.76 0.54 0.32 0.10 -0.22 -0.34 -0.29
0.5875 3.65 3.45 2.88 2.76 2.26 2.10 1.62 1.40 1.05 1.01 0.78 0.32 0.33 -0.04 -0.02 -0.32 -0.25
0.590 3.82 3.28 2.91 2.64 2.42 2.01 1.66 1.36 1.26 1.01 0.58 0.36 0.13 -0.07 -0.04 -0.16 -0.43
0.5925 3.81 3.27 3.10 2.56 2.43 1.92 1.82 1.54 1.26 0.84 0.58 0.53 0.13 0.12 -0.22 -0.15 -0.45
0.595 3.79 3.46 3.10 2.74 2.24 2.12 1.82 1.55 1.16 0.84 0.77 0.53 0.31 0.12 -0.15 -0.27 -0.28
0.5975 3.65 3.45 2.88 2.76 2.26 2.10 1.62 1.40 1.05 1.01 0.78 0.32 0.33 -0.04 -0.02 -0.32 -0.25
0.600 3.76 3.38 3.05 2.66 2.38 2.03 1.77 1.46 1.21 0.95 0.71 0.46 0.26 0.04 -0.11 -0.23 -0.33
0.6001 -1.88 -1.66 -1.62 -1.41 -1.34 -1.10 -1.05 -0.80 -0.74 -0.50 -0.46 -0.28 -0.28 -0.14 -0.19 -0.09 -0.16
0.6025 -1.78 -1.53 -1.56 -1.28 -1.29 -1.00 -1.02 -0.73 -0.73 -0.45 -0.46 -0.24 -0.29 -0.11 -0.19 -0.08 -0.17
0.605 -1.53 -1.58 -1.34 -1.35 -1.09 -1.08 -0.83 -0.82 -0.56 -0.55 -0.32 -0.35 -0.16 -0.23 -0.08 -0.19 -0.05
0.6075 -1.45 -1.52 -1.25 -1.29 -1.02 -1.04 -0.78 -0.80 -0.53 -0.54 -0.30 -0.34 -0.15 -0.22 -0.09 -0.18 -0.07
0.610 -1.52 -1.31 -1.34 -1.11 -1.12 -0.87 -0.88 -0.63 -0.64 -0.40 -0.42 -0.21 -0.28 -0.10 -0.21 -0.06 -0.19
0.6125 -1.32 -1.40 -1.14 -1.19 -0.93 -0.96 -0.71 -0.74 -0.48 -0.51 -0.28 -0.32 -0.14 -0.22 -0.09 -0.18 -0.07
0.615 -1.27 -1.34 -1.11 -1.15 -0.90 -0.93 -0.68 -0.71 -0.46 -0.49 -0.26 -0.33 -0.13 -0.23 -0.07 -0.20 -0.05
0.6175 -1.37 -1.15 -1.20 -0.96 -1.00 -0.75 -0.80 -0.55 -0.58 -0.34 -0.38 -0.19 -0.25 -0.09 -0.18 -0.07 -0.17
0.620 -1.33 -1.11 -1.17 -0.93 -0.97 -0.73 -0.77 -0.53 -0.57 -0.33 -0.38 -0.17 -0.26 -0.08 -0.20 -0.05 -0.19
0.6225 -1.14 -1.22 -0.98 -1.04 -0.79 -0.84 -0.61 -0.66 -0.41 -0.46 -0.24 -0.30 -0.13 -0.21 -0.08 -0.17 -0.07
0.625 -1.10 -1.19 -0.95 -1.02 -0.78 -0.83 -0.58 -0.64 -0.40 -0.46 -0.22 -0.31 -0.11 -0.22 -0.06 -0.19 -0.04
0.6275 -1.23 -1.01 -1.07 -0.83 -0.89 -0.65 -0.72 -0.48 -0.53 -0.30 -0.35 -0.17 -0.24 -0.09 -0.18 -0.07 -0.17
0.630 -1.20 -0.98 -1.06 -0.82 -0.88 -0.64 -0.71 -0.47 -0.53 -0.29 -0.36 -0.16 -0.25 -0.08 -0.20 -0.05 -0.19
0.6325 -1.17 -0.96 -1.02 -0.79 -0.85 -0.62 -0.69 -0.45 -0.51 -0.28 -0.34 -0.16 -0.24 -0.08 -0.18 -0.07 -0.17
0.635 -0.99 -1.09 -0.86 -0.93 -0.70 -0.76 -0.52 -0.59 -0.36 -0.43 -0.21 -0.29 -0.11 -0.21 -0.06 -0.20 -0.05
0.6375 -0.97 -1.07 -0.83 -0.90 -0.67 -0.74 -0.51 -0.58 -0.35 -0.41 -0.21 -0.27 -0.11 -0.20 -0.08 -0.17 -0.07
0.640 -1.10 -0.90 -0.97 -0.75 -0.82 -0.59 -0.65 -0.42 -0.49 -0.27 -0.34 -0.14 -0.24 -0.07 -0.20 -0.05 -0.19
0.6425 -0.93 -1.03 -0.80 -0.87 -0.64 -0.71 -0.49 -0.56 -0.33 -0.40 -0.20 -0.27 -0.11 -0.20 -0.08 -0.17 -0.07
0.645 -0.91 -1.01 -0.79 -0.87 -0.64 -0.71 -0.48 -0.55 -0.33 -0.41 -0.19 -0.29 -0.10 -0.21 -0.06 -0.20 -0.05
0.6475 -1.04 -0.84 -0.91 -0.69 -0.77 -0.54 -0.62 -0.39 -0.46 -0.25 -0.31 -0.14 -0.23 -0.08 -0.18 -0.07 -0.17
0.650 -1.03 -0.83 -0.91 -0.69 -0.77 -0.54 -0.62 -0.39 -0.46 -0.25 -0.33 -0.13 -0.24 -0.07 -0.20 -0.04 -0.19
0.6525 -1.02 -0.82 -0.89 -0.67 -0.75 -0.52 -0.61 -0.38 -0.45 -0.24 -0.31 -0.14 -0.22 -0.08 -0.18 -0.07 -0.17
0.655 -0.86 -0.96 -0.74 -0.82 -0.60 -0.67 -0.45 -0.53 -0.31 -0.39 -0.18 -0.28 -0.09 -0.21 -0.05 -0.20 -0.06
0.6575 -0.84 -0.95 -0.72 -0.80 -0.58 -0.65 -0.44 -0.52 -0.30 -0.37 -0.18 -0.26 -0.10 -0.20 -0.08 -0.17 -0.07
0.660 -0.98 -0.79 -0.87 -0.65 -0.73 -0.51 -0.59 -0.37 -0.45 -0.23 -0.32 -0.13 -0.23 -0.07 -0.20 -0.05 -0.19
0.6625 -0.97 -0.78 -0.85 -0.63 -0.71 -0.49 -0.58 -0.36 -0.43 -0.23 -0.30 -0.13 -0.22 -0.08 -0.18 -0.07 -0.17
0.665 -0.81 -0.92 -0.70 -0.78 -0.56 -0.65 -0.43 -0.51 -0.29 -0.38 -0.17 -0.27 -0.09 -0.21 -0.05 -0.20 -0.05
0.6675 -0.80 -0.91 -0.68 -0.76 -0.54 -0.63 -0.42 -0.50 -0.28 -0.36 -0.18 -0.25 -0.10 -0.20 -0.08 -0.17 -0.07
0.670 -0.94 -0.75 -0.83 -0.62 -0.70 -0.48 -0.56 -0.35 -0.43 -0.22 -0.32 -0.12 -0.23 -0.06 -0.20 -0.04 -0.19
0.6725 -0.78 -0.89 -0.67 -0.75 -0.53 -0.61 -0.41 -0.49 -0.27 -0.36 -0.17 -0.25 -0.10 -0.20 -0.08 -0.17 -0.07
0.675 -0.78 -0.88 -0.67 -0.75 -0.54 -0.62 -0.41 -0.49 -0.27 -0.37 -0.16 -0.26 -0.09 -0.21 -0.05 -0.20 -0.05
0.6775 -0.92 -0.72 -0.80 -0.58 -0.67 -0.45 -0.55 -0.33 -0.41 -0.21 -0.29 -0.12 -0.21 -0.08 -0.18 -0.07 -0.17
0.680 -0.91 -0.72 -0.81 -0.59 -0.68 -0.46 -0.55 -0.33 -0.42 -0.21 -0.31 -0.12 -0.23 -0.06 -0.19 -0.05 -0.19
0.6825 -0.90 -0.71 -0.79 -0.57 -0.66 -0.44 -0.54 -0.33 -0.40 -0.21 -0.29 -0.12 -0.21 -0.07 -0.18 -0.07 -0.17
0.685 -0.75 -0.85 -0.64 -0.73 -0.52 -0.60 -0.39 -0.48 -0.26 -0.36 -0.15 -0.26 -0.09 -0.21 -0.05 -0.20 -0.05
0.6875 -0.74 -0.85 -0.63 -0.71 -0.50 -0.58 -0.38 -0.47 -0.26 -0.35 -0.16 -0.24 -0.09 -0.19 -0.08 -0.17 -0.07
0.690 -0.88 -0.69 -0.78 -0.57 -0.65 -0.44 -0.53 -0.32 -0.41 -0.21 -0.30 -0.11 -0.22 -0.06 -0.19 -0.04 -0.19
0.6925 -0.88 -0.68 -0.76 -0.55 -0.64 -0.43 -0.53 -0.31 -0.39 -0.20 -0.28 -0.12 -0.21 -0.07 -0.18 -0.07 -0.17
0.695 -0.72 -0.83 -0.62 -0.71 -0.50 -0.59 -0.38 -0.46 -0.25 -0.35 -0.15 -0.26 -0.08 -0.21 -0.05 -0.20 -0.05
0.6975 -0.72 -0.83 -0.60 -0.69 -0.48 -0.57 -0.37 -0.46 -0.25 -0.34 -0.16 -0.24 -0.09 -0.19 -0.08 -0.17 -0.07
0.700 -0.84 -0.70 -0.75 -0.56 -0.62 -0.44 -0.50 -0.32 -0.38 -0.21 -0.28 -0.12 -0.21 -0.07 -0.18 -0.06 -0.17
}\traces

\begin{document}
\begin{tikzpicture}[x=1pt,y=1pt]
\useasboundingbox (0,0) rectangle (945,624);
\begin{axis}[
  at={(123pt,99pt)}, anchor=south west,
  scale only axis, width=734pt, height=479pt,
  xmin=-0.025, xmax=0.727, ymin=-2.138, ymax=4.469,
  axis x line*=bottom, axis y line*=left,
  axis line style={axgray, line width=0.8pt, -},
  tick align=inside, major tick length=8pt,
  tick style={axgray, line width=0.8pt},
  xtick={0.1,0.35,0.6}, xticklabels={0.1,0.35,0.6},
  ytick={-2,0,2,4}, yticklabels={-2,0,2,4},
  ticklabel style={font=\fontsize{31}{36}\selectfont, text=axgray},
  xticklabel style={yshift=-6pt},
  yticklabel style={xshift=-4pt},
  xlabel={t [s]}, ylabel={I [nA]},
  label style={font=\fontsize{33}{40}\selectfont, text=axgray},
  xlabel style={at={(axis description cs:0.5,-0.168)}, anchor=center},
  ylabel style={at={(axis description cs:-0.105,0.5)}, anchor=center},
]
\pgfplotsinvokeforeach{0,...,16}{
  \addplot[black, solid, no markers, line width=2pt, line join=round] table[x=t, y=c#1] {\traces};
}
\end{axis}
\node[anchor=base west, inner sep=0pt, font=\bfseries\fontsize{21.5}{25}\selectfont] at (158,577) {Kv11.1\ \ Rat\ \ HEK\ \ 25 °C};
\node[anchor=base east, inner sep=0pt, font=\fontsize{21.5}{25}\selectfont] at (838,577) {Activation};
\node[rotate=90, anchor=center, inner sep=0pt, font=\fontsize{21.5}{25}\selectfont] at (850,339) {BBP Channelpedia ID 13595 rep 1};
\end{tikzpicture}
\end{document}
